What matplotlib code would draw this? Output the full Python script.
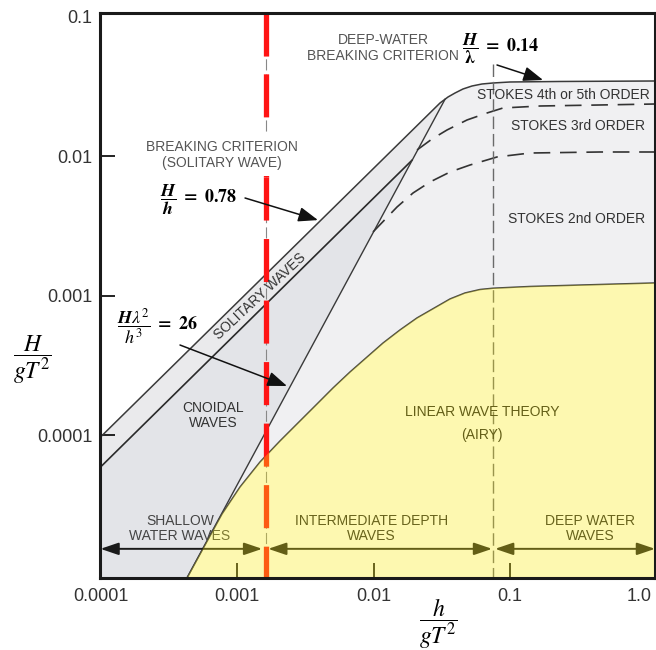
import matplotlib
matplotlib.use('Agg')
import matplotlib.pyplot as plt
from matplotlib.patches import Polygon
from matplotlib.mathtext import MathTextParser
from matplotlib.transforms import ScaledTranslation

plt.rcParams['font.family'] = ['Liberation Sans', 'DejaVu Sans']
plt.rcParams['mathtext.fontset'] = 'stix'
plt.rcParams['lines.scale_dashes'] = False

# ---------------- data (x = h/gT^2, y = H/gT^2) ----------------
x_limits = [1e-4, 1.154]
y_limits = [9.52e-6, 0.1068]
x_ticks = [1e-4, 1e-3, 1e-2, 1e-1, 1.0]
x_tick_labels = ['0.0001', '0.001', '0.01', '0.1', '1.0']
y_ticks = [1e-4, 1e-3, 1e-2, 1e-1]
y_tick_labels = ['0.0001', '0.001', '0.01', '0.1']

breaking_x = [1e-4, 0.0307, 0.03514, 0.03956, 0.04524, 0.05266, 0.06234, 0.07507, 0.1, 0.2325, 1.154]
breaking_y = [9.75e-5, 0.02418, 0.02670, 0.02852, 0.03047, 0.03201, 0.03309, 0.03364, 0.03420, 0.03449, 0.03477]

solitary_low_x = [1e-4, 0.01914]
solitary_low_y = [5.94e-5, 0.0094]

ursell_x = [4.30e-4, 0.0334]
ursell_y = [9.52e-6, 0.0257]

linear_x = [4.30e-4, 5.83e-4, 7.766e-4, 1.052e-3, 1.474e-3, 2.065e-3, 2.893e-3, 3.856e-3, 5.05e-3,
            6.727e-3, 0.01174, 0.01563, 0.02083, 0.03634, 0.04679, 0.06029, 0.07507, 0.1401, 0.4563, 1.154]
linear_y = [9.52e-6, 1.641e-5, 2.737e-5, 4.272e-5, 6.457e-5, 9.134e-5, 1.27e-4, 1.681e-4, 2.19e-4,
            2.852e-4, 4.60e-4, 5.706e-4, 6.96e-4, 9.52e-4, 1.051e-3, 1.113e-3, 1.137e-3, 1.170e-3, 1.209e-3, 1.240e-3]

stokes45_x = [0.02083, 0.02684, 0.03456, 0.04842, 0.06785, 0.08885, 0.1659, 0.4563, 1.154]
stokes45_y = [0.01113, 0.01335, 0.01549, 0.01827, 0.02050, 0.02227, 0.02301, 0.02340, 0.02378]

stokes23_x = [0.009915, 0.01487, 0.01948, 0.02594, 0.03634, 0.05093, 0.08032, 0.1401, 0.4563, 1.154]
stokes23_y = [2.876e-3, 4.345e-3, 5.476e-3, 6.566e-3, 7.74e-3, 8.69e-3, 9.92e-3, 0.01059, 0.01077, 0.01077]

shallow_limit = 0.00162     # h/gT^2 shallow-water limit (red line)
deep_limit = 0.0755         # h/gT^2 deep-water limit
deep_line_top = 0.046
red_split = 7.13e-3
arrow_y = 1.54e-5

# ---------------- figure ----------------
fig = plt.figure(figsize=(6.56, 6.50), dpi=100)
ax = fig.add_axes([0.1532, 0.1108, 0.8453, 0.8692])
ax.set_xscale('log')
ax.set_yscale('log')
ax.set_xlim(*x_limits)
ax.set_ylim(*y_limits)

# regions
below_breaking = list(zip(breaking_x, breaking_y)) + list(zip(linear_x, linear_y))[::-1] + \
    [(x_limits[0], y_limits[0])]
ax.add_patch(Polygon(below_breaking, closed=True, facecolor='#f0f0f2', edgecolor='none', zorder=1))

sol_band = [(breaking_x[0], breaking_y[0]), (breaking_x[1], breaking_y[1]),
            (ursell_x[1], ursell_y[1]), (solitary_low_x[1], solitary_low_y[1]),
            (solitary_low_x[0], solitary_low_y[0])]
ax.add_patch(Polygon(sol_band, closed=True, facecolor='#eaeaec', edgecolor='none', zorder=1.1))

cnoidal = [(solitary_low_x[0], solitary_low_y[0]), (solitary_low_x[1], solitary_low_y[1]),
           (ursell_x[0], ursell_y[0]), (x_limits[0], y_limits[0])]
ax.add_patch(Polygon(cnoidal, closed=True, facecolor='#e3e4e8', edgecolor='none', zorder=1.1))

# yellow (linear theory) overlay
yellow = list(zip(linear_x, linear_y)) + [(x_limits[1], y_limits[0])]
ax.add_patch(Polygon(yellow, closed=True, facecolor='#f9ea10', alpha=0.33, edgecolor='none', zorder=4))

# curves
lc = '#3a3a3a'
ax.plot(breaking_x, breaking_y, color=lc, lw=1.1, zorder=2)
ax.plot(solitary_low_x, solitary_low_y, color='#2a2a2a', lw=1.2, zorder=2)
ax.plot(ursell_x, ursell_y, color=lc, lw=1.0, zorder=2)
ax.plot(linear_x, linear_y, color='#444444', lw=1.1, zorder=2)
ax.plot(stokes45_x, stokes45_y, color='#333333', lw=1.2, dashes=(12, 7), zorder=2)
ax.plot(stokes23_x, stokes23_y, color='#333333', lw=1.2, dashes=(12, 7), zorder=2)

# deep-water limit (vertical dashed)
ax.plot([deep_limit, deep_limit], [deep_line_top, y_limits[0]], color='#6a6a6a', lw=1.0,
        dashes=(9, 3.5), zorder=2)

# shallow-water limit: thin grey dashed + thick red dashed
ax.plot([shallow_limit, shallow_limit], [y_limits[1], y_limits[0]], color='#888888', lw=0.8,
        dashes=(8, 3), zorder=2.2)
ax.plot([shallow_limit, shallow_limit], [y_limits[1], red_split], color='#ff1414', lw=3.8,
        dashes=(31, 12.8), solid_capstyle='butt', dash_capstyle='butt', zorder=2.5)
ax.plot([shallow_limit, shallow_limit], [red_split, y_limits[0]], color='#ff1414', lw=3.8,
        dashes=(31, 13.3), solid_capstyle='butt', dash_capstyle='butt', zorder=2.5)

# bottom range arrows
def range_arrow(x0, x1):
    ax.annotate('', xy=(x1, arrow_y), xytext=(x0, arrow_y),
                arrowprops=dict(arrowstyle='<|-|>,head_length=0.5,head_width=0.17',
                                color='#1a1a1a', lw=1.4, mutation_scale=22,
                                shrinkA=0, shrinkB=0), zorder=3)

range_arrow(x_limits[0], shallow_limit / 1.06)
range_arrow(shallow_limit * 1.045, deep_limit / 1.022)
range_arrow(deep_limit * 1.03, x_limits[1])

# pointer arrows
def pointer(tail, head):
    ax.annotate('', xy=head, xytext=tail,
                arrowprops=dict(arrowstyle='-|>,head_length=0.4,head_width=0.15',
                                color='#111111', lw=1.1, mutation_scale=30,
                                shrinkA=0, shrinkB=0), zorder=3)

pointer((1.145e-3, 5.04e-3), (3.92e-3, 3.50e-3))
pointer((3.823e-4, 4.452e-4), (2.324e-3, 2.263e-4))
pointer((0.0803, 0.04528), (0.1745, 0.03535))

# text labels
tc = '#333333'
ax.text(0.01174, 0.05995, 'DEEP-WATER\nBREAKING CRITERION', ha='center', va='center',
        fontsize=10, color='#555555', linespacing=1.2, zorder=3)
ax.text(7.77e-4, 0.01025, 'BREAKING CRITERION\n(SOLITARY WAVE)', ha='center', va='center',
        fontsize=10, color='#555555', linespacing=1.2, zorder=3,
        bbox=dict(boxstyle='square,pad=0.45', facecolor='white', edgecolor='none'))
ax.text(0.2445, 0.02760, 'STOKES 4th or 5th ORDER', ha='center', va='center', fontsize=10, color=tc, zorder=3)
ax.text(0.3149, 0.01654, 'STOKES 3rd ORDER', ha='center', va='center', fontsize=10, color=tc, zorder=3)
ax.text(0.3096, 3.565e-3, 'STOKES 2nd ORDER', ha='center', va='center', fontsize=10, color=tc, zorder=3)
ax.text(1.474e-3, 1.0e-3, 'SOLITARY WAVES', ha='center', va='center', fontsize=10, color=tc,
        rotation=43, rotation_mode='anchor', zorder=3)
ax.text(6.67e-4, 1.391e-4, 'CNOIDAL\nWAVES', ha='center', va='center', fontsize=10, color=tc,
        linespacing=1.15, zorder=3)
ax.text(0.06234, 1.474e-4, 'LINEAR WAVE THEORY', ha='center', va='center', fontsize=10, color='#1a1a1a', zorder=3)
ax.text(0.06234, 1.008e-4, '(AIRY)', ha='center', va='center', fontsize=10, color='#1a1a1a', zorder=3)
ax.text(3.823e-4, 2.154e-5, 'SHALLOW\nWATER WAVES', ha='center', va='center', fontsize=10,
        color='#444444', linespacing=1.15, zorder=3)
ax.text(9.667e-3, 2.154e-5, 'INTERMEDIATE DEPTH\nWAVES', ha='center', va='center', fontsize=10,
        color='#222222', linespacing=1.15, zorder=3)
ax.text(0.3856, 2.154e-5, 'DEEP WATER\nWAVES', ha='center', va='center', fontsize=10,
        color='#222222', linespacing=1.15, zorder=3)

# math annotations (bold)
def safe_math(primary, fallback):
    try:
        MathTextParser('path').parse(primary)
        return primary
    except Exception:
        return fallback

s_lam = safe_math(r'$\dfrac{\boldsymbol{H}}{\boldsymbol{\lambda}}\mathbf{\ =\ 0.14}$',
                  r'$\dfrac{\mathbf{H}}{\lambda}\mathbf{\ =\ 0.14}$')
s_h = safe_math(r'$\dfrac{\boldsymbol{H}}{\boldsymbol{h}}\mathbf{\ =\ 0.78}$',
                r'$\dfrac{\mathbf{H}}{\mathbf{h}}\mathbf{\ =\ 0.78}$')
s_u = safe_math(r'$\dfrac{\boldsymbol{H\lambda^2}}{\boldsymbol{h^3}}\mathbf{\ =\ 26}$',
                r'$\dfrac{\mathbf{H}\lambda^\mathbf{2}}{\mathbf{h^3}}\mathbf{\ =\ 26}$')
ax.text(0.04449, 0.05896, s_lam, ha='left', va='center', fontsize=13, color='black', zorder=3)
ax.text(2.729e-4, 4.878e-3, s_h, ha='left', va='center', fontsize=13, color='black', zorder=3)
ax.text(1.321e-4, 5.995e-4, s_u, ha='left', va='center', fontsize=13, color='black', zorder=3)

# axes styling
ax.set_xticks(x_ticks)
ax.set_xticklabels(x_tick_labels)
ax.set_yticks(y_ticks)
ax.set_yticklabels(y_tick_labels)
ax.minorticks_off()
ax.tick_params(axis='both', direction='in', length=10.5, width=1.4, labelsize=13,
               labelcolor='#333333', color='#222222')
ax.tick_params(axis='x', pad=7)
ax.tick_params(axis='y', pad=6)
xt = ax.xaxis.get_major_ticks()
xt[0].tick1line.set_visible(False)
xt[-1].tick1line.set_visible(False)
last_lab = xt[-1].label1
last_lab.set_transform(last_lab.get_transform() + ScaledTranslation(-5 / 72, 0, fig.dpi_scale_trans))
yt = ax.yaxis.get_major_ticks()
yt[-1].tick1line.set_visible(False)
for sp in ax.spines.values():
    sp.set_linewidth(2.2)
    sp.set_color('#1a1a1a')
    sp.set_zorder(6)

fig.text(438 / 656, 1 - 624 / 650, r'$\dfrac{h}{gT^2}$', ha='center', va='center', fontsize=17)
fig.text(32 / 656, 1 - 360 / 650, r'$\dfrac{H}{gT^2}$', ha='center', va='center', fontsize=17)

fig.savefig('out.png', dpi=100, facecolor='white')
